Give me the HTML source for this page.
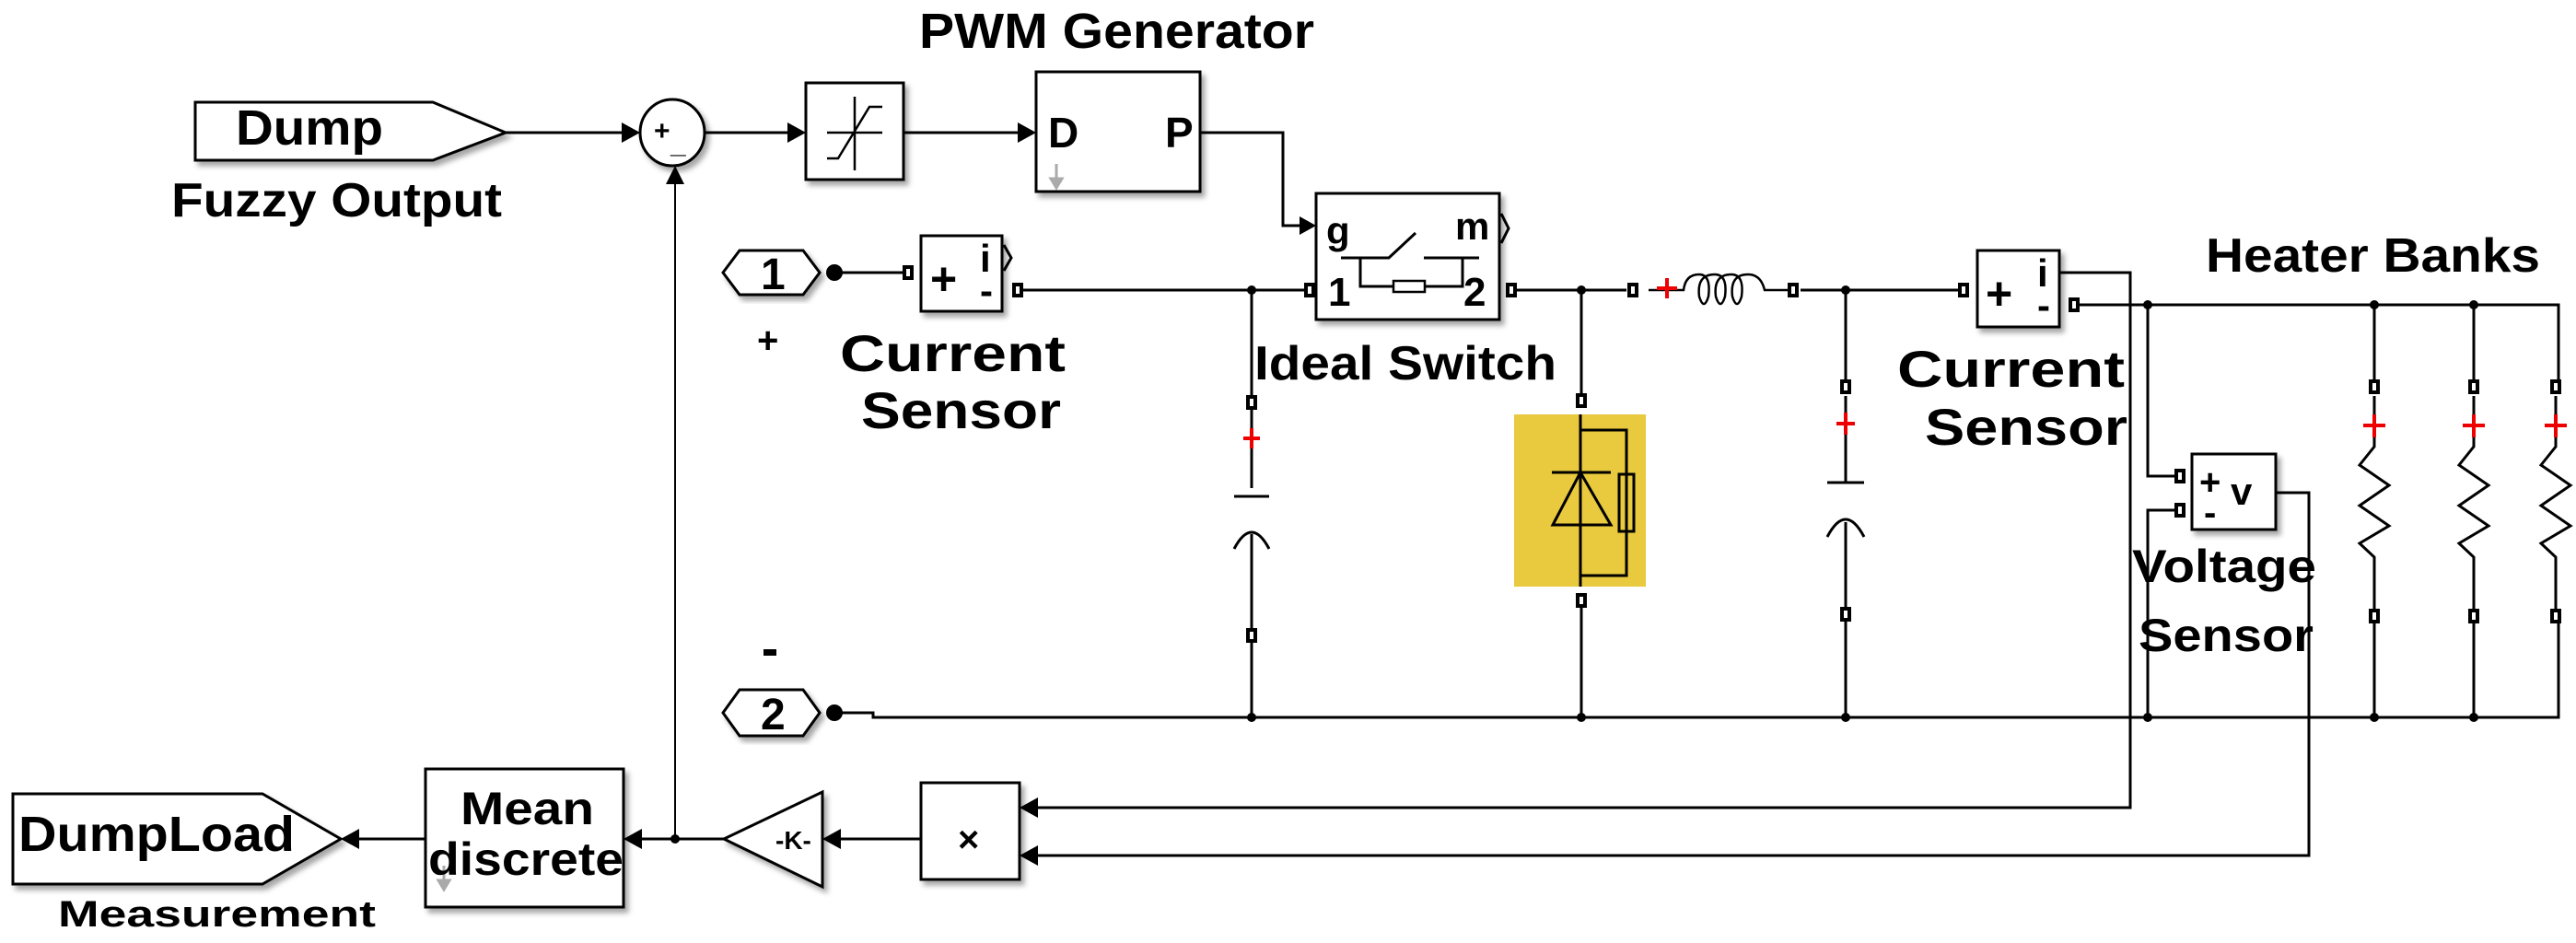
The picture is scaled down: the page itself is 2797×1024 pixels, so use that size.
<!DOCTYPE html>
<html><head><meta charset="utf-8"><style>
html,body{margin:0;padding:0;background:#fff;}
svg{display:block;}
text{font-family:"Liberation Sans",Arial,sans-serif;font-weight:bold;fill:#000;}
</style></head><body>
<svg width="2797" height="1024" viewBox="0 0 2797 1024" xmlns="http://www.w3.org/2000/svg">
<defs>
<filter id="sh" x="-10%" y="-10%" width="130%" height="130%"><feDropShadow dx="4" dy="5" stdDeviation="3" flood-color="#000" flood-opacity="0.35"/></filter>
</defs>
<g fill="none" stroke="#000" stroke-width="3">
<path d="M212 111 H470 L549 144 L470 174 H212 Z" fill="#fff" filter="url(#sh)"/>
<ellipse cx="730" cy="144" rx="35" ry="36" fill="#fff" filter="url(#sh)"/>
<rect x="875" y="90" width="106" height="105" fill="#fff" filter="url(#sh)"/>
<path d="M898 144 H958 M898 172 H910 L944 116 H958 M928 105 V185" stroke-width="2.5"/>
<rect x="1125" y="78" width="178" height="130" fill="#fff" filter="url(#sh)"/>
<rect x="1429" y="210" width="199" height="137" fill="#fff" filter="url(#sh)"/>
<path d="M1456 280 H1508 L1537 253 M1546 280 H1606 M1477 280 V311 H1513 M1547 311 H1588 V280" stroke-width="3"/>
<rect x="1513" y="305" width="34" height="12" stroke-width="2.5"/>
<path d="M1630 232 L1638 248 L1630 264" stroke-width="3"/>
<rect x="1000" y="256" width="88" height="82" fill="#fff" filter="url(#sh)"/>
<path d="M1090 266 L1098 280 L1090 294" stroke-width="3"/>
<rect x="2147" y="272" width="89" height="83" fill="#fff" filter="url(#sh)"/>
<rect x="2380" y="493" width="91" height="82" fill="#fff" filter="url(#sh)"/>
<rect x="1000" y="850" width="107" height="105" fill="#fff" filter="url(#sh)"/>
<path d="M893 860 V963 L786 911 Z" fill="#fff" filter="url(#sh)"/>
<rect x="462" y="835" width="215" height="150" fill="#fff" filter="url(#sh)"/>
<path d="M14 862 H285 L370 911 L285 960 H14 Z" fill="#fff" filter="url(#sh)"/>
<path d="M785 296 L803 272 H872 L890 296 L872 320 H803 Z" fill="#fff" filter="url(#sh)"/>
<path d="M785 774 L803 749 H872 L890 774 L872 799 H803 Z" fill="#fff" filter="url(#sh)"/>

<path d="M549 144 H690 M765 144 H870 M981 144 H1120 M1303 144 H1393 V245 H1424"/>
<path d="M733 185 V911" stroke-width="2"/>
<path d="M1000 911 H900 M786 911 H682 M462 911 H376"/>
<path d="M2237 296 H2313 V877 H1113 M2471 535 H2507 V929 H1113" stroke-width="3"/>

<path d="M906 296 H985 M1103 315 H1424 M1640 315 H1766 M1955 315 H2132 M2250 331 H2778 V420"/>
<path d="M1359 315 V432 M1359 443 V530 M1359 580 V685 M1359 690 V779"/>
<path d="M1717 315 V435 M1717 450 V637 M1717 652 V779"/>
<path d="M2004 315 V420 M2004 430 V524 M2004 567 V667 M2004 672 V779"/>
<path d="M906 774 H948 V779 H2778 V669"/>
<path d="M2332 331 V517 H2365 M2365 554 H2332 V779"/>
<path d="M2578 331 V420 M2686 331 V420 M2578 669 V779 M2686 669 V779"/>
<path d="M1340 539 H1378 M1340 596 Q1359 560 1378 596" stroke-width="3"/>
<path d="M1984 524 H2024 M1984 583 Q2004 545 2024 583" stroke-width="3"/>
<rect x="1644" y="450" width="143" height="187" fill="#e9c93d" stroke="none"/>
<path d="M1716 450 V637 M1716 467 H1766 V625 H1716 M1685 513 H1749 M1716 513 L1686 570 H1749 Z" stroke-width="3"/>
<rect x="1758" y="515" width="16" height="62" stroke-width="3"/>
<path d="M1790 315 H1828 Q1830 298 1845 298 Q1858 298 1855 322 Q1850 338 1845 322 Q1842 298 1862 298 Q1876 298 1873 322 Q1868 338 1863 322 Q1860 298 1880 298 Q1894 298 1891 322 Q1886 338 1881 322 Q1878 298 1898 298 Q1912 298 1916 315 H1946" stroke-width="2.5"/>
<path d="M2578 430 V485 L2562 505 L2594 527 L2562 549 L2594 571 L2562 590 L2578 605 V669"/>
<path d="M2686 430 V485 L2670 505 L2702 527 L2670 549 L2702 571 L2670 590 L2686 605 V669"/>
<path d="M2775 430 V485 L2759 505 L2791 527 L2759 549 L2791 571 L2759 590 L2775 605 V669"/>
</g>
<g stroke="#e00" stroke-width="4" fill="none">
<path d="M1359 465 V487 M1350 476 H1368"/>
<path d="M2004 448 V472 M1994 460 H2014"/>
<path d="M1810 302 V324 M1799 313 H1821"/>
<path d="M2578 450 V475 M2566 462 H2590"/>
<path d="M2686 450 V475 M2674 462 H2698"/>
<path d="M2775 450 V475 M2763 462 H2787"/>
</g>
<g fill="#000">
<path d="M695 144 L675 133 V155 Z"/>
<path d="M875 144 L855 133 V155 Z"/>
<path d="M1125 144 L1105 133 V155 Z"/>
<path d="M1429 245 L1411 235 V255 Z"/>
<path d="M733 180 L723 200 H743 Z"/>
<path d="M1107 877 L1127 866 V888 Z"/>
<path d="M1107 929 L1127 918 V940 Z"/>
<path d="M893 911 L913 900 V922 Z"/>
<path d="M677 911 L697 900 V922 Z"/>
<path d="M370 911 L390 900 V922 Z"/>
<circle cx="906" cy="296" r="9"/><circle cx="906" cy="774" r="9"/>
<circle cx="733" cy="911" r="5"/>
<circle cx="1359" cy="315" r="5"/><circle cx="1717" cy="315" r="5"/><circle cx="2004" cy="315" r="5"/>
<circle cx="2332" cy="331" r="5"/><circle cx="2578" cy="331" r="5"/><circle cx="2686" cy="331" r="5"/>
<circle cx="1359" cy="779" r="5"/><circle cx="1717" cy="779" r="5"/><circle cx="2004" cy="779" r="5"/>
<circle cx="2332" cy="779" r="5"/><circle cx="2578" cy="779" r="5"/><circle cx="2686" cy="779" r="5"/>
<rect x="829" y="705" width="14" height="7"/>
</g>
<g fill="#fff" stroke="#000" stroke-width="4">
<rect x="982" y="290" width="8" height="12"/><rect x="1101" y="309" width="8" height="12"/>
<rect x="1418" y="309" width="8" height="12"/><rect x="1637" y="309" width="8" height="12"/>
<rect x="1769" y="309" width="8" height="12"/><rect x="1943" y="309" width="8" height="12"/>
<rect x="2128" y="309" width="8" height="12"/><rect x="2248" y="325" width="8" height="12"/>
<rect x="1355" y="431" width="8" height="12"/><rect x="1355" y="684" width="8" height="12"/>
<rect x="1713" y="429" width="8" height="12"/><rect x="1713" y="646" width="8" height="12"/>
<rect x="2000" y="414" width="8" height="12"/><rect x="2000" y="661" width="8" height="12"/>
<rect x="2574" y="414" width="8" height="12"/><rect x="2574" y="663" width="8" height="12"/>
<rect x="2682" y="414" width="8" height="12"/><rect x="2682" y="663" width="8" height="12"/>
<rect x="2771" y="414" width="8" height="12"/><rect x="2771" y="663" width="8" height="12"/>
<rect x="2363" y="511" width="8" height="12"/><rect x="2363" y="548" width="8" height="12"/>
</g>
<g fill="#aaa" stroke="#aaa" stroke-width="3">
<path d="M1147 178 V196" fill="none"/><path d="M1147 204 L1141 194 H1153 Z"/>
<path d="M482 940 V958" fill="none"/><path d="M482 966 L476 956 H488 Z"/>
</g>
<text x="998" y="52" font-size="54" textLength="429" lengthAdjust="spacingAndGlyphs">PWM Generator</text>
<text x="256" y="157" font-size="54" textLength="160" lengthAdjust="spacingAndGlyphs">Dump</text>
<text x="186" y="235" font-size="52" textLength="359" lengthAdjust="spacingAndGlyphs">Fuzzy Output</text>
<text x="710" y="152" font-size="30" font-weight="normal">+</text>
<text x="728" y="166" font-size="30" font-weight="normal">_</text>
<text x="1138" y="160" font-size="46">D</text>
<text x="1265" y="160" font-size="46">P</text>
<text x="826" y="314" font-size="48">1</text>
<text x="826" y="792" font-size="48">2</text>
<text x="1010" y="320" font-size="50">+</text>
<text x="1064" y="295" font-size="42">i</text>
<text x="1064" y="330" font-size="42">-</text>
<text x="2156" y="336" font-size="50">+</text>
<text x="2212" y="311" font-size="42">i</text>
<text x="2212" y="346" font-size="42">-</text>
<text x="2388" y="537" font-size="40">+</text>
<text x="2422" y="548" font-size="42" font-weight="normal">v</text>
<text x="2393" y="570" font-size="40">-</text>
<text x="1440" y="265" font-size="42" font-weight="normal">g</text>
<text x="1580" y="260" font-size="42" font-weight="normal">m</text>
<text x="1442" y="332" font-size="44" font-weight="normal">1</text>
<text x="1589" y="332" font-size="44" font-weight="normal">2</text>
<text x="822" y="383" font-size="40">+</text>
<text x="912" y="403" font-size="56" textLength="245" lengthAdjust="spacingAndGlyphs">Current</text>
<text x="935" y="465" font-size="56" textLength="217" lengthAdjust="spacingAndGlyphs">Sensor</text>
<text x="1362" y="412" font-size="52" textLength="328" lengthAdjust="spacingAndGlyphs">Ideal Switch</text>
<text x="2060" y="420" font-size="56" textLength="247" lengthAdjust="spacingAndGlyphs">Current</text>
<text x="2090" y="483" font-size="56" textLength="220" lengthAdjust="spacingAndGlyphs">Sensor</text>
<text x="2395" y="295" font-size="52" textLength="363" lengthAdjust="spacingAndGlyphs">Heater Banks</text>
<text x="2315" y="632" font-size="50" textLength="200" lengthAdjust="spacingAndGlyphs">Voltage</text>
<text x="2322" y="707" font-size="50" textLength="190" lengthAdjust="spacingAndGlyphs">Sensor</text>
<text x="1040" y="925" font-size="40" font-weight="normal">×</text>
<text x="842" y="922" font-size="28" font-weight="normal">-K-</text>
<text x="500" y="895" font-size="50" textLength="145" lengthAdjust="spacingAndGlyphs">Mean</text>
<text x="465" y="950" font-size="50" textLength="212" lengthAdjust="spacingAndGlyphs">discrete</text>
<text x="20" y="924" font-size="54" textLength="300" lengthAdjust="spacingAndGlyphs">DumpLoad</text>
<text x="63" y="1006" font-size="40" textLength="345" lengthAdjust="spacingAndGlyphs">Measurement</text>
</svg>
</body></html>
